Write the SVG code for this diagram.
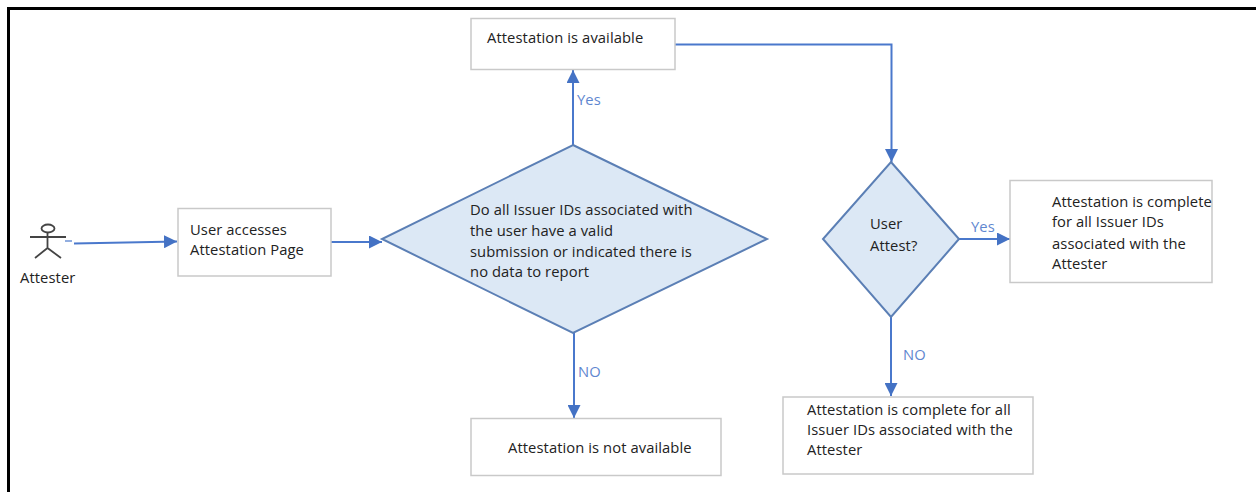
<svg xmlns="http://www.w3.org/2000/svg" width="1256" height="492" viewBox="0 0 1256 492">
<style>
text{font-family:"Open Sans","Noto Sans","Liberation Sans",sans-serif;font-size:14.75px;letter-spacing:.08px;fill:#222}
.lbl{fill:#5f87d0}
.box{fill:#fff;stroke:#c9c9c9;stroke-width:1.5}
.dia{fill:#dce8f5;stroke:#5b7fb5;stroke-width:2}
.con{fill:none;stroke:#4a78cc;stroke-width:2}
.act{fill:none;stroke:#444;stroke-width:1.8}
</style>
<defs><marker id="arr" viewBox="0 0 10 10" refX="10" refY="5" markerWidth="13" markerHeight="13" markerUnits="userSpaceOnUse" orient="auto"><path d="M0 0L10 5L0 10Z" fill="#4472c4"/></marker></defs>
<rect width="1256" height="492" fill="#fff"/>
<path d="M8.500 492V8.500H1256" fill="none" stroke="#000" stroke-width="3"/>
<g id="connectors">
<path class="con" d="M65 241H72" stroke-opacity=".6"/>
<path class="con" d="M74 243.500L177 241.500" marker-end="url(#arr)"/>
<path class="con" d="M331 242H382" marker-end="url(#arr)"/>
<path class="con" d="M573 145V70" marker-end="url(#arr)"/>
<path class="con" d="M675 44.500H891.500V162" marker-end="url(#arr)"/>
<path class="con" d="M958 239H1010" marker-end="url(#arr)"/>
<path class="con" d="M891 317V396" marker-end="url(#arr)"/>
<path class="con" d="M574 333V418" marker-end="url(#arr)"/>
</g>
<g id="attester">
<ellipse class="act" cx="48" cy="228.500" rx="6.500" ry="4"/>
<path class="act" d="M30 237H66M47.500 233V248M47.500 248L35 258M47.500 248L61 258"/>
<text x="20" y="283">Attester</text>
</g>
<g id="user-accesses"><rect class="box" x="178" y="208.500" width="153" height="67.500"/><text x="190" y="235">User accesses</text><text x="190" y="255">Attestation Page</text></g>
<g id="decision-1"><path class="dia" d="M573 145L767 239L573 333L382 239Z"/><text x="470" y="215">Do all Issuer IDs associated with</text><text x="470" y="236">the user have a valid</text><text x="470" y="257">submission or indicated there is</text><text x="470" y="277">no data to report</text></g>
<g id="available"><rect class="box" x="471" y="18.500" width="204" height="51"/><text x="487" y="43">Attestation is available</text></g>
<g id="not-available"><rect class="box" x="471" y="418.500" width="250" height="57"/><text x="508" y="453">Attestation is not available</text></g>
<g id="decision-2"><path class="dia" d="M891 162L959 239L891 317L823 239Z"/><text x="870" y="229">User</text><text x="870" y="251">Attest?</text></g>
<g id="complete-right"><rect class="box" x="1010" y="180.500" width="202" height="102"/><text x="1052" y="207">Attestation is complete</text><text x="1052" y="227">for all Issuer IDs</text><text x="1052" y="249">associated with the</text><text x="1052" y="269">Attester</text></g>
<g id="complete-bottom"><rect class="box" x="783" y="397" width="250" height="77"/><text x="807" y="415">Attestation is complete for all</text><text x="807" y="435">Issuer IDs associated with the</text><text x="807" y="455">Attester</text></g>
<g id="labels">
<text class="lbl" x="577" y="105">Yes</text>
<text class="lbl" x="971" y="232">Yes</text>
<text class="lbl" x="578" y="377">NO</text>
<text class="lbl" x="903" y="360">NO</text>
</g>
</svg>
